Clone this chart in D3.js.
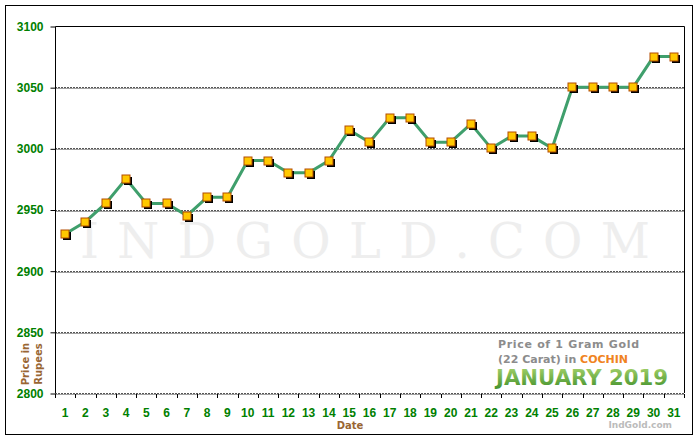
<!DOCTYPE html>
<html>
<head>
<meta charset="utf-8">
<script src="https://cdn.jsdelivr.net/npm/d3@7"></script>
<style>
  body { margin: 0; background: #fff; }
  svg { display: block; }
</style>
</head>
<body>
<div id="chart"></div>
<script>
const days = d3.range(1, 32).map(String);
const prices = [2930, 2940, 2955, 2975, 2955, 2955, 2945, 2960, 2960, 2990,
  2990, 2980, 2980, 2990, 3015, 3005, 3025, 3025, 3005, 3005,
  3020, 3000, 3010, 3010, 3000, 3050, 3050, 3050, 3050, 3075, 3075];
const yTicks = [2800, 2850, 2900, 2950, 3000, 3050, 3100];

const width = 700, height = 440;
const plot = { left: 55, top: 26, right: 684, bottom: 393 };

const svg = d3.select("#chart").append("svg")
  .attr("width", width)
  .attr("height", height);

const x = d3.scaleBand().domain(days).range([plot.left, plot.right]).padding(0);
const y = d3.scaleLinear().domain([2800, 3100]).range([plot.bottom, plot.top]);

// outer frame
svg.append("rect")
  .attr("x", 5.5).attr("y", 5.5)
  .attr("width", 687).attr("height", 429)
  .attr("fill", "#fff").attr("stroke", "#000");

// watermark
svg.append("text")
  .attr("x", 80).attr("y", 258)
  .attr("textLength", 570)
  .attr("lengthAdjust", "spacing")
  .style("font-family", "'DejaVu Serif', 'Liberation Serif', serif")
  .style("font-size", "48px")
  .attr("fill", "#eeeeee")
  .text("INDGOLD.COM");

// gridlines
const grid = svg.append("g");
yTicks.filter(t => t < 3100).forEach(t => {
  const yy = Math.round(y(t));
  grid.append("line")
    .attr("x1", plot.left).attr("x2", plot.right)
    .attr("y1", yy + 1.5).attr("y2", yy + 1.5)
    .attr("stroke", "#a0a0a0");
  grid.append("line")
    .attr("x1", plot.left).attr("x2", plot.right)
    .attr("y1", yy + 0.5).attr("y2", yy + 0.5)
    .attr("stroke", "#555").attr("stroke-dasharray", "2,1");
});

// plot border top + right + left axis
svg.append("path")
  .attr("d", `M${plot.left + 0.5},${plot.bottom}V${plot.top + 0.5}H${plot.right + 0.5}V${plot.bottom}`)
  .attr("fill", "none").attr("stroke", "#000");

// y axis
const yAxis = svg.append("g")
  .attr("transform", `translate(${plot.left + 0.5},0.5)`)
  .call(d3.axisLeft(y).tickValues(yTicks).tickSize(5).tickPadding(7).tickFormat(d3.format("d")));
yAxis.select(".domain").remove();
yAxis.selectAll("line").attr("stroke", "#000");
yAxis.selectAll("text")
  .attr("fill", "#008000")
  .style("font-family", "'Liberation Sans', Arial, sans-serif")
  .style("font-weight", "bold")
  .style("font-size", "12px");

// x axis: ticks at band edges, labels at centres
const xg = svg.append("g");
xg.selectAll("line")
  .data(d3.range(0, 32))
  .join("line")
  .attr("x1", d => Math.round(plot.left + d * x.bandwidth()) + 0.5)
  .attr("x2", d => Math.round(plot.left + d * x.bandwidth()) + 0.5)
  .attr("y1", plot.bottom + 1).attr("y2", plot.bottom + 5)
  .attr("stroke", "#000");
xg.selectAll("text")
  .data(days)
  .join("text")
  .attr("x", d => x(d) + x.bandwidth() / 2)
  .attr("y", 417)
  .attr("text-anchor", "middle")
  .attr("fill", "#008000")
  .style("font-family", "'Liberation Sans', Arial, sans-serif")
  .style("font-weight", "bold")
  .style("font-size", "12px")
  .text(d => d);

// axis titles
const brown = "#996633";
svg.append("text")
  .attr("x", 350).attr("y", 429)
  .attr("text-anchor", "middle")
  .attr("fill", brown)
  .style("font-family", "'DejaVu Sans', Verdana, sans-serif")
  .style("font-weight", "bold")
  .style("font-size", "10px")
  .text("Date");

const ylab = svg.append("g").attr("transform", "translate(0,364) rotate(-90)");
ylab.append("text").attr("x", 0).attr("y", 29).text("Price in");
ylab.append("text").attr("x", 0).attr("y", 42).text("Rupees");
ylab.selectAll("text")
  .attr("text-anchor", "middle")
  .attr("fill", brown)
  .style("font-family", "'DejaVu Sans', Verdana, sans-serif")
  .style("font-weight", "bold")
  .style("font-size", "10px");

// legend block
const defs = svg.append("defs");
const grad = defs.append("linearGradient")
  .attr("id", "greenGrad").attr("x1", 0).attr("y1", 0).attr("x2", 0).attr("y2", 1);
grad.append("stop").attr("offset", "0%").attr("stop-color", "#a8d46c");
grad.append("stop").attr("offset", "100%").attr("stop-color", "#3f8f2a");

const leg = svg.append("g")
  .style("font-family", "'DejaVu Sans', Verdana, sans-serif")
  .style("font-weight", "bold");
leg.append("text")
  .attr("x", 498).attr("y", 348)
  .attr("textLength", 141)
  .attr("fill", "#8c8c8c")
  .style("font-size", "11px")
  .text("Price of 1 Gram Gold");
const l2 = leg.append("text")
  .attr("x", 498).attr("y", 363)
  .style("font-size", "11px");
l2.append("tspan").attr("fill", "#8c8c8c").text("(22 Carat) in ");
l2.append("tspan").attr("fill", "#f08321").text("COCHIN");
leg.append("text")
  .attr("x", 496).attr("y", 385)
  .attr("textLength", 172)
  .attr("lengthAdjust", "spacingAndGlyphs")
  .attr("fill", "url(#greenGrad)")
  .style("font-size", "21px")
  .text("JANUARY 2019");

svg.append("text")
  .attr("x", 672).attr("y", 428)
  .attr("text-anchor", "end")
  .attr("fill", "#bbbbbb")
  .style("font-family", "'DejaVu Sans', Verdana, sans-serif")
  .style("font-weight", "bold")
  .style("font-size", "9px")
  .text("IndGold.com");

// price line
const pts = days.map((d, i) => ({ day: d, price: prices[i] }));
const cx = d => x(d.day) + x.bandwidth() / 2;

svg.append("path")
  .datum(pts)
  .attr("d", d3.line().x(cx).y(d => y(d.price)))
  .attr("fill", "none")
  .attr("stroke", "#3f9f6c")
  .attr("stroke-width", 3);

// markers with shadow
const mk = svg.append("g");
mk.selectAll(".shadow")
  .data(pts)
  .join("rect")
  .attr("class", "shadow")
  .attr("x", d => Math.round(cx(d)) - 2)
  .attr("y", d => Math.round(y(d.price)) - 2)
  .attr("width", 8).attr("height", 8)
  .attr("fill", "#000");
mk.selectAll(".box")
  .data(pts)
  .join("rect")
  .attr("class", "box")
  .attr("x", d => Math.round(cx(d)) - 4)
  .attr("y", d => Math.round(y(d.price)) - 4)
  .attr("width", 8).attr("height", 8)
  .attr("fill", "#ffc800")
  .attr("stroke", "#b34d00");
</script>
</body>
</html>
